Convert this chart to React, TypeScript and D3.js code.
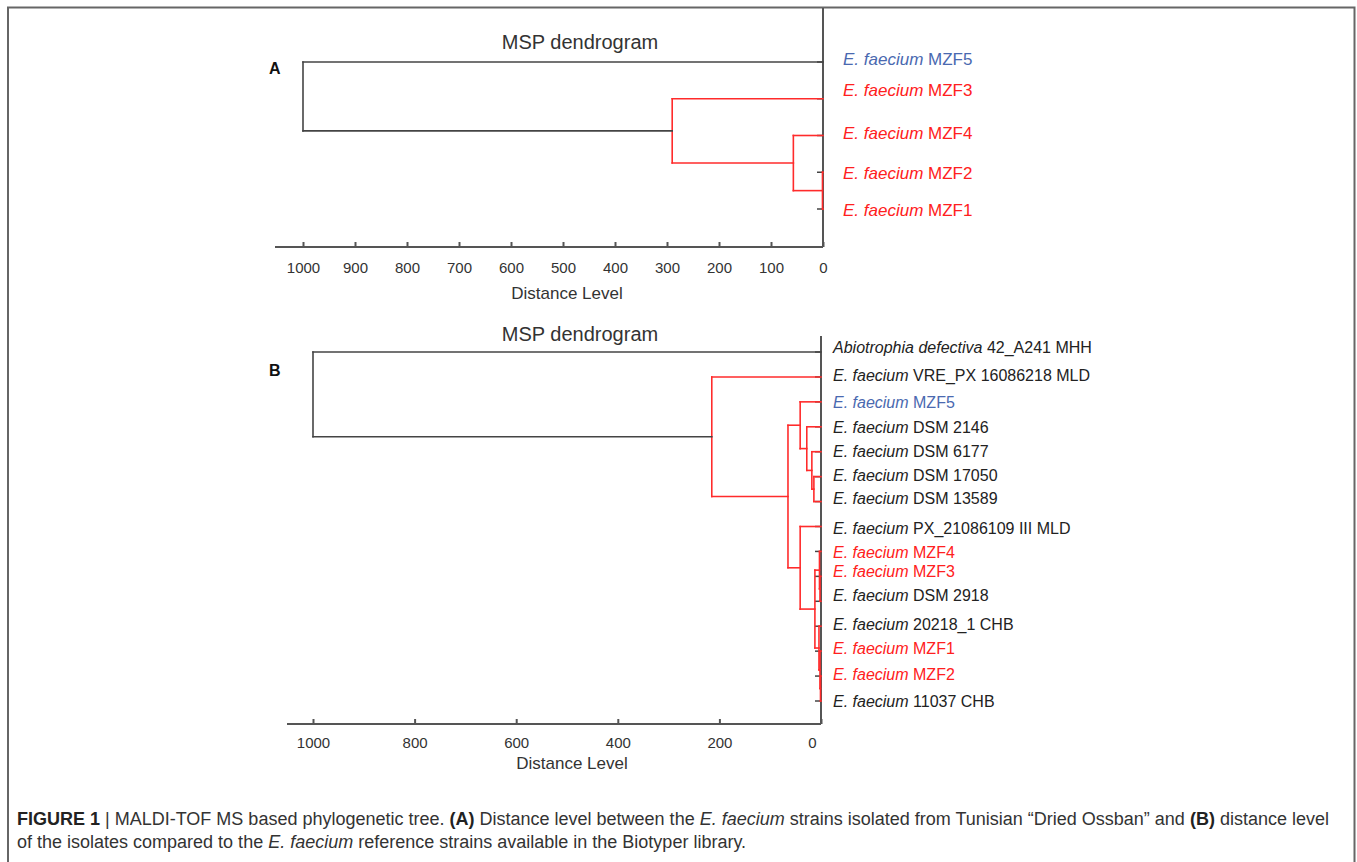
import React, { useEffect, useRef } from 'react';
import * as d3 from 'd3';

// ---- panel A: isolates only ----
const leavesA = ['MZF5', 'MZF3', 'MZF4', 'MZF2', 'MZF1'];
const leafKindA = ['blue', 'red', 'red', 'red', 'red'];
// merges: [left node, right node, distance level]; leaves are 0..n-1, new nodes follow
const mergesA = [
  [3, 4, 1],
  [2, 5, 57],
  [1, 6, 290],
  [0, 7, 1000],
];
const ticksA = [1000, 900, 800, 700, 600, 500, 400, 300, 200, 100, 0];

// ---- panel B: isolates + Biotyper references ----
const speciesB = [
  'Abiotrophia defectiva', 'E. faecium', 'E. faecium', 'E. faecium', 'E. faecium',
  'E. faecium', 'E. faecium', 'E. faecium', 'E. faecium', 'E. faecium',
  'E. faecium', 'E. faecium', 'E. faecium', 'E. faecium', 'E. faecium',
];
const strainsB = [
  '42_A241 MHH', 'VRE_PX 16086218 MLD', 'MZF5', 'DSM 2146', 'DSM 6177',
  'DSM 17050', 'DSM 13589', 'PX_21086109 III MLD', 'MZF4', 'MZF3',
  'DSM 2918', '20218_1 CHB', 'MZF1', 'MZF2', '11037 CHB',
];
const leafKindB = [
  'dark', 'dark', 'blue', 'dark', 'dark', 'dark', 'dark', 'dark',
  'red', 'red', 'dark', 'dark', 'red', 'red', 'dark',
];
const mergesB = [
  [5, 6, 14],
  [4, 15, 18],
  [3, 16, 28],
  [2, 17, 41],
  [9, 10, 2],
  [8, 19, 3],
  [13, 14, 1],
  [12, 21, 2],
  [11, 22, 4],
  [20, 23, 12],
  [7, 24, 41],
  [18, 25, 65],
  [1, 26, 215],
  [0, 27, 1000],
];
const ticksB = [1000, 800, 600, 400, 200, 0];

// small vertical nudges of the leaf labels (layout only)
const labelNudgeA = [-3, -9, -2, 1, 1];
const labelNudgeB = [-5, -2, 1, 1, 0, -1, -3, 2, 1, -5, -6, -2, -3, -2, 0];

const FONT = 'Liberation Sans, Arial, Helvetica, sans-serif';
const RED = '#ff2b2b';
const BLACK = '#444';
const textColor = { red: '#ff2020', blue: '#4a69b0', dark: '#222' };

function drawPanel(g, cfg) {
  const { n, merges, x, y, species, strains, kinds, nudges, labelX, axisY, axisLeft, axisTop, ticks, tickPad, zeroShift, fontSize } = cfg;
  const x0 = x(0);

  // axes
  g.append('line').attr('x1', axisLeft).attr('x2', x0).attr('y1', axisY).attr('y2', axisY)
    .attr('stroke', '#555').attr('stroke-width', 2);
  g.append('line').attr('x1', x0).attr('x2', x0).attr('y1', axisTop).attr('y2', axisY)
    .attr('stroke', '#555').attr('stroke-width', 2);

  const axis = d3.axisBottom(x).tickValues(ticks).tickFormat(d3.format('d'))
    .tickSizeInner(-5).tickSizeOuter(0).tickPadding(tickPad);
  const ax = g.append('g').attr('transform', `translate(0,${axisY})`).call(axis);
  ax.select('.domain').remove();
  ax.selectAll('.tick line').attr('stroke', '#555').attr('stroke-width', 2);
  ax.selectAll('.tick text').attr('font-family', FONT).attr('font-size', 15).attr('fill', '#333')
    .attr('dx', (d) => (d === 0 ? zeroShift : 0));

  // leaf ticks
  const leafIdx = d3.range(n);
  g.selectAll('line.leaf').data(leafIdx).join('line').attr('class', 'leaf')
    .attr('x1', x0 - 6).attr('x2', x0).attr('y1', (i) => y(i)).attr('y2', (i) => y(i))
    .attr('stroke', BLACK).attr('stroke-width', 1.5);

  // node positions
  const pos = leafIdx.map((i) => ({ d: 0, y: y(i) }));
  merges.forEach(([l, r, d]) => pos.push({ d, y: (pos[l].y + pos[r].y) / 2 }));

  const segs = [];
  merges.forEach(([l, r, d], k) => {
    const col = k === merges.length - 1 ? BLACK : RED;
    segs.push({ x1: x(d), x2: x(d), y1: pos[l].y, y2: pos[r].y, col });
    segs.push({ x1: x(pos[l].d), x2: x(d), y1: pos[l].y, y2: pos[l].y, col });
    segs.push({ x1: x(pos[r].d), x2: x(d), y1: pos[r].y, y2: pos[r].y, col });
  });
  g.selectAll('line.seg').data(segs).join('line').attr('class', 'seg')
    .attr('x1', (s) => s.x1).attr('x2', (s) => s.x2).attr('y1', (s) => s.y1).attr('y2', (s) => s.y2)
    .attr('stroke', (s) => s.col).attr('stroke-width', 1.6).attr('stroke-linecap', 'square');

  // labels
  const lab = g.selectAll('text.lab').data(leafIdx).join('text').attr('class', 'lab')
    .attr('x', labelX).attr('y', (i) => y(i) + nudges[i]).attr('dy', '0.35em')
    .attr('font-family', FONT).attr('font-size', fontSize)
    .attr('fill', (i) => textColor[kinds[i]]);
  lab.append('tspan').attr('font-style', 'italic').text((i) => species[i]);
  lab.append('tspan').text((i) => ' ' + strains[i]);
}

const App = () => {
  const svgRef = useRef(null);

  useEffect(() => {
    const svg = d3.select(svgRef.current);
    svg.selectAll('*').remove();

    // frame
    svg.append('path').attr('d', 'M8,870 V7.5 H1354.5 V870').attr('fill', 'none')
      .attr('stroke', '#666').attr('stroke-width', 2);

    // panel A
    const gA = svg.append('g');
    const xA = d3.scaleLinear().domain([1000, 0]).range([303, 823]);
    const yA = d3.scalePoint().domain(d3.range(leavesA.length)).range([62, 209]);
    drawPanel(gA, {
      n: leavesA.length, merges: mergesA, x: xA, y: yA,
      species: leavesA.map(() => 'E. faecium'), strains: leavesA, kinds: leafKindA,
      nudges: labelNudgeA, labelX: 843, axisY: 247, axisLeft: 275, axisTop: 8,
      ticks: ticksA, tickPad: 15, zeroShift: 0, fontSize: 17,
    });
    gA.append('text').attr('x', 580).attr('y', 42).attr('dy', '0.35em').attr('text-anchor', 'middle')
      .attr('font-family', FONT).attr('font-size', 20).attr('fill', '#333').text('MSP dendrogram');
    gA.append('text').attr('x', 567).attr('y', 293).attr('dy', '0.35em').attr('text-anchor', 'middle')
      .attr('font-family', FONT).attr('font-size', 17).attr('fill', '#333').text('Distance Level');
    gA.append('text').attr('x', 269).attr('y', 68).attr('dy', '0.35em')
      .attr('font-family', FONT).attr('font-size', 16).attr('font-weight', 'bold').attr('fill', '#111').text('A');

    // panel B
    const gB = svg.append('g');
    const xB = d3.scaleLinear().domain([1000, 0]).range([313, 821]);
    const yB = d3.scalePoint().domain(d3.range(strainsB.length)).range([352, 701]);
    drawPanel(gB, {
      n: strainsB.length, merges: mergesB, x: xB, y: yB,
      species: speciesB, strains: strainsB, kinds: leafKindB,
      nudges: labelNudgeB, labelX: 833, axisY: 724, axisLeft: 287, axisTop: 336,
      ticks: ticksB, tickPad: 13, zeroShift: -9, fontSize: 16,
    });
    gB.append('text').attr('x', 580).attr('y', 334).attr('dy', '0.35em').attr('text-anchor', 'middle')
      .attr('font-family', FONT).attr('font-size', 20).attr('fill', '#333').text('MSP dendrogram');
    gB.append('text').attr('x', 572).attr('y', 763).attr('dy', '0.35em').attr('text-anchor', 'middle')
      .attr('font-family', FONT).attr('font-size', 17).attr('fill', '#333').text('Distance Level');
    gB.append('text').attr('x', 269).attr('y', 370).attr('dy', '0.35em')
      .attr('font-family', FONT).attr('font-size', 16).attr('font-weight', 'bold').attr('fill', '#111').text('B');

    // caption
    const cap1 = svg.append('text').attr('x', 17).attr('y', 819).attr('dy', '0.35em')
      .attr('font-family', FONT).attr('font-size', 18).attr('fill', '#333');
    cap1.append('tspan').attr('font-weight', 'bold').attr('fill', '#222').text('FIGURE 1 ');
    cap1.append('tspan').text('| MALDI-TOF MS based phylogenetic tree. ');
    cap1.append('tspan').attr('font-weight', 'bold').attr('fill', '#222').text('(A)');
    cap1.append('tspan').text(' Distance level between the ');
    cap1.append('tspan').attr('font-style', 'italic').text('E. faecium');
    cap1.append('tspan').text(' strains isolated from Tunisian \u201cDried Ossban\u201d and ');
    cap1.append('tspan').attr('font-weight', 'bold').attr('fill', '#222').text('(B)');
    cap1.append('tspan').text(' distance level');

    const cap2 = svg.append('text').attr('x', 17).attr('y', 842).attr('dy', '0.35em')
      .attr('font-family', FONT).attr('font-size', 18).attr('fill', '#333');
    cap2.append('tspan').text('of the isolates compared to the ');
    cap2.append('tspan').attr('font-style', 'italic').text('E. faecium');
    cap2.append('tspan').text(' reference strains available in the Biotyper library.');
  }, []);

  return (
    <div>
      <svg ref={svgRef} width={1357} height={862}
        style={{ position: 'absolute', left: 0, top: 0, display: 'block', background: '#fff' }}></svg>
    </div>
  );
};

export default App;
